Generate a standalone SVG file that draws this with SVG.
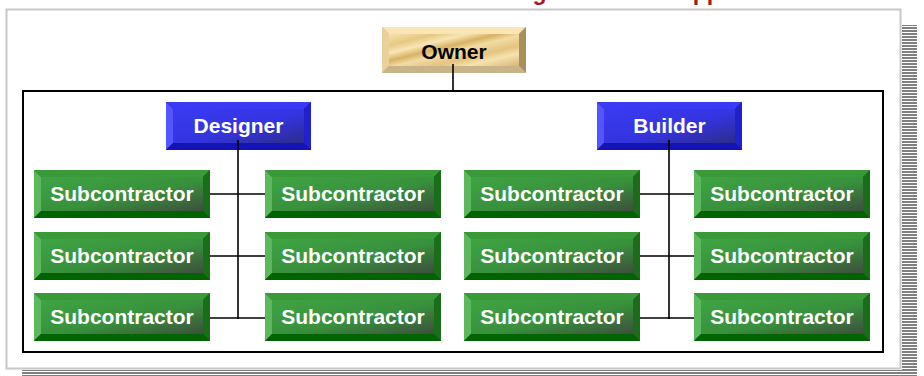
<svg xmlns="http://www.w3.org/2000/svg" xmlns:xlink="http://www.w3.org/1999/xlink" width="924" height="376" viewBox="0 0 924 376">
<style>
.t{font-family:"Liberation Sans",Arial,sans-serif;font-weight:bold;font-size:21px;text-anchor:middle}
.w{fill:#ffffff}
.k{fill:#000000}
.ln{stroke:#000;stroke-width:1.6;fill:none}
.title{font-family:"Liberation Sans",Arial,sans-serif;font-weight:bold;font-size:23px;fill:#9e1c22}
</style>
<defs>
<pattern id="stripe" width="4" height="3" patternUnits="userSpaceOnUse">
<rect width="4" height="3" fill="#ffffff"/>
<rect width="4" height="2" fill="#808080"/>
</pattern>
<linearGradient id="gGreen" x1="0" y1="0" x2="1" y2="1">
<stop offset="0" stop-color="#3fa444"/>
<stop offset="0.55" stop-color="#38903c"/>
<stop offset="1" stop-color="#3e4e3e"/>
</linearGradient>
<linearGradient id="gBlue" x1="0" y1="0" x2="1" y2="1">
<stop offset="0" stop-color="#3a3af2"/>
<stop offset="0.55" stop-color="#3434e0"/>
<stop offset="1" stop-color="#2c2c8c"/>
</linearGradient>
<linearGradient id="gGold" x1="0" y1="0" x2="1" y2="1">
<stop offset="0" stop-color="#f6e2ae"/>
<stop offset="0.18" stop-color="#e6c882"/>
<stop offset="0.3" stop-color="#f8e6b6"/>
<stop offset="0.42" stop-color="#d8b262"/>
<stop offset="0.52" stop-color="#f2dba4"/>
<stop offset="0.68" stop-color="#e4c47e"/>
<stop offset="0.8" stop-color="#f6e2b0"/>
<stop offset="1" stop-color="#d6b674"/>
</linearGradient>
<symbol id="sub" width="176" height="48" overflow="visible">
<rect width="176" height="48" fill="#006400"/>
<polygon points="0,0 176,0 169,7 7,7" fill="#3a9a3a"/>
<polygon points="0,0 7,7 7,41 0,48" fill="#5cb85c"/>
<polygon points="176,0 176,48 169,41 169,7" fill="#1a6e1a"/>
<polygon points="0,48 7,41 169,41 176,48" fill="#006400"/>
<rect x="7" y="7" width="162" height="34" fill="url(#gGreen)"/>
</symbol>
<symbol id="blue" width="145" height="48" overflow="visible">
<rect width="145" height="48" fill="#1414b4"/>
<polygon points="0,0 145,0 138,7 7,7" fill="#3a3af5"/>
<polygon points="0,0 7,7 7,41 0,48" fill="#5555ff"/>
<polygon points="145,0 145,48 138,41 138,7" fill="#2020cc"/>
<polygon points="0,48 7,41 138,41 145,48" fill="#1414b4"/>
<rect x="7" y="7" width="131" height="34" fill="url(#gBlue)"/>
</symbol>
<symbol id="gold" width="144" height="46" overflow="visible">
<rect width="144" height="46" fill="#c4ae82"/>
<polygon points="0,0 144,0 137,7 7,7" fill="#f8e4b4"/>
<polygon points="0,0 7,7 7,39 0,46" fill="#ead09a"/>
<polygon points="144,0 144,46 137,39 137,7" fill="#a8905c"/>
<polygon points="0,46 7,39 137,39 144,46" fill="#c8b488"/>
<rect x="7" y="7" width="130" height="32" fill="url(#gGold)"/>
</symbol>
</defs>
<rect width="924" height="376" fill="#ffffff"/>
<text class="title" x="484" y="0">Design-Bid-Build Approach</text>
<rect x="902" y="25" width="15" height="351" fill="url(#stripe)"/>
<rect x="22" y="370" width="895" height="6" fill="url(#stripe)"/>
<rect x="6.5" y="9.5" width="894" height="359" fill="#ffffff" stroke="#c8c8c8" stroke-width="2"/>
<rect x="23" y="91" width="860" height="261" fill="none" stroke="#000" stroke-width="2"/>

<g id="owner"><use xlink:href="#gold" x="382" y="27"/><text class="t k" x="454" y="59">Owner</text></g>
<g id="designer"><use xlink:href="#blue" x="166" y="102"/><text class="t w" x="238.5" y="133">Designer</text></g>
<g id="builder"><use xlink:href="#blue" x="597" y="102"/><text class="t w" x="669.5" y="133">Builder</text></g>

<g id="sub-d-l1"><use xlink:href="#sub" x="34" y="170"/><text class="t w" x="122" y="201">Subcontractor</text></g>
<g id="sub-d-l2"><use xlink:href="#sub" x="34" y="232"/><text class="t w" x="122" y="263">Subcontractor</text></g>
<g id="sub-d-l3"><use xlink:href="#sub" x="34" y="293"/><text class="t w" x="122" y="324">Subcontractor</text></g>
<g id="sub-d-r1"><use xlink:href="#sub" x="265" y="170"/><text class="t w" x="353" y="201">Subcontractor</text></g>
<g id="sub-d-r2"><use xlink:href="#sub" x="265" y="232"/><text class="t w" x="353" y="263">Subcontractor</text></g>
<g id="sub-d-r3"><use xlink:href="#sub" x="265" y="293"/><text class="t w" x="353" y="324">Subcontractor</text></g>
<g id="sub-b-l1"><use xlink:href="#sub" x="464" y="170"/><text class="t w" x="552" y="201">Subcontractor</text></g>
<g id="sub-b-l2"><use xlink:href="#sub" x="464" y="232"/><text class="t w" x="552" y="263">Subcontractor</text></g>
<g id="sub-b-l3"><use xlink:href="#sub" x="464" y="293"/><text class="t w" x="552" y="324">Subcontractor</text></g>
<g id="sub-b-r1"><use xlink:href="#sub" x="694" y="170"/><text class="t w" x="782" y="201">Subcontractor</text></g>
<g id="sub-b-r2"><use xlink:href="#sub" x="694" y="232"/><text class="t w" x="782" y="263">Subcontractor</text></g>
<g id="sub-b-r3"><use xlink:href="#sub" x="694" y="293"/><text class="t w" x="782" y="324">Subcontractor</text></g>

<g id="connectors" class="ln">
<path d="M453 64V91"/>
<path d="M238 140V319"/>
<path d="M210 194H265M210 256H265M210 318H265"/>
<path d="M669 140V319"/>
<path d="M640 194H694M640 256H694M640 318H694"/>
</g>
</svg>
